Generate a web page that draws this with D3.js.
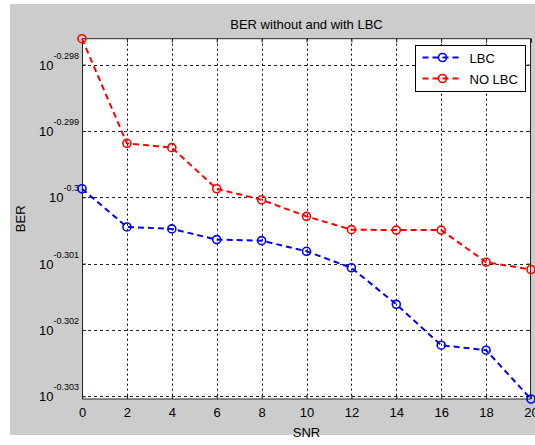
<!DOCTYPE html>
<html>
<head>
<meta charset="utf-8">
<script src="https://d3js.org/d3.v7.min.js"></script>
<style>
  body { margin: 0; background: #fff; }
  text { font-family: "Liberation Sans", Arial, sans-serif; }
</style>
</head>
<body>
<svg width="535" height="445"></svg>
<script>
// SNR values (x axis)
var snr = [0, 2, 4, 6, 8, 10, 12, 14, 16, 18, 20];
// BER
var berLBC   = [0.501335, 0.500671, 0.500637, 0.500451, 0.500433, 0.500248, 0.499962, 0.499328, 0.498620, 0.498534, 0.497690];
var berNoLBC = [0.503953, 0.502127, 0.502051, 0.501335, 0.501143, 0.500855, 0.500624, 0.500616, 0.500616, 0.500059, 0.499932];
// y tick exponents (labels are 10^exp)
var yTickExp = ["-0.298", "-0.299", "-0.3", "-0.301", "-0.302", "-0.303"];
var xTicks = [0, 2, 4, 6, 8, 10, 12, 14, 16, 18, 20];

var series = [
    { name: "LBC", values: berLBC, color: "#0000ff" },
    { name: "NO LBC", values: berNoLBC, color: "#ff0000" }
];

var svg = d3.select("svg");

// figure background
svg.append("rect")
    .attr("x", 10).attr("y", 4)
    .attr("width", 525).attr("height", 431)
    .attr("fill", "#cccccc");

var margin = {left: 82, top: 38.7, right: 531, bottom: 399};
var width = margin.right - margin.left,
    height = margin.bottom - margin.top;

var all = berLBC.concat(berNoLBC);

var x = d3.scaleLinear()
    .domain([0, 20])
    .range([margin.left, margin.right]);

var y = d3.scaleLog()
    .domain(d3.extent(all))
    .range([margin.bottom, margin.top]);

var yTickVals = yTickExp.map(function (e) { return Math.pow(10, +e); });

// plot area
svg.append("rect")
    .attr("x", margin.left).attr("y", margin.top)
    .attr("width", width).attr("height", height)
    .attr("fill", "#fff");

// grid
var grid = svg.append("g");
grid.selectAll(".vg")
    .data(xTicks.slice(1, -1))
    .enter().append("line")
    .attr("x1", function (d) { return Math.round(x(d)) + 0.5; })
    .attr("x2", function (d) { return Math.round(x(d)) + 0.5; })
    .attr("y1", margin.top).attr("y2", margin.bottom)
    .attr("stroke", "#000")
    .attr("stroke-dasharray", "2,3");
grid.selectAll(".hg")
    .data(yTickVals)
    .enter().append("line")
    .attr("x1", margin.left).attr("x2", margin.right)
    .attr("y1", function (d) { return Math.round(y(d)) + 0.5; })
    .attr("y2", function (d) { return Math.round(y(d)) + 0.5; })
    .attr("stroke", "#222")
    .attr("stroke-dasharray", "3,3");

// ticks, inside on all four sides
var xAxisB = d3.axisBottom(x).tickValues(xTicks).tickSizeInner(-4).tickSizeOuter(0).tickPadding(9);
var xAxisT = d3.axisTop(x).tickValues(xTicks).tickSizeInner(-4).tickSizeOuter(0).tickFormat("");
var yAxisL = d3.axisLeft(y).tickValues(yTickVals).tickSizeInner(-4).tickSizeOuter(0).tickFormat("");
var yAxisR = d3.axisRight(y).tickValues(yTickVals).tickSizeInner(-4).tickSizeOuter(0).tickFormat("");

function styleAxis(g) {
    g.select(".domain").remove();
    g.selectAll("line").attr("stroke", "#262626");
    g.selectAll("text").attr("fill", "#000").style("font-size", "13px");
}

svg.append("g").attr("transform", "translate(0," + margin.bottom + ")").call(xAxisB).call(styleAxis);
svg.append("g").attr("transform", "translate(0," + margin.top + ")").call(xAxisT).call(styleAxis);
svg.append("g").attr("transform", "translate(" + margin.left + ",0)").call(yAxisL).call(styleAxis);
svg.append("g").attr("transform", "translate(" + margin.right + ",0)").call(yAxisR).call(styleAxis);

// box
svg.append("rect")
    .attr("x", margin.left + 0.5).attr("y", margin.top)
    .attr("width", width - 1).attr("height", height)
    .attr("fill", "none")
    .attr("stroke", "#262626");

// y tick labels as 10^exp
var yl = svg.append("g");
yTickExp.forEach(function (e, i) {
    var t = yl.append("text")
        .attr("x", 79)
        .attr("y", y(yTickVals[i]) + 5)
        .attr("text-anchor", "end")
        .attr("fill", "#000")
        .style("font-size", "13px");
    t.append("tspan").text("10");
    t.append("tspan").attr("dy", -11).style("font-size", "9px").text(e);
});

// lines and markers
var line = d3.line()
    .x(function (d, i) { return x(snr[i]); })
    .y(function (d) { return y(d); });

series.forEach(function (s) {
    svg.append("path")
        .datum(s.values)
        .attr("d", line)
        .attr("fill", "none")
        .attr("stroke", s.color)
        .attr("stroke-width", 2)
        .attr("stroke-dasharray", "6,4");
    svg.selectAll(null)
        .data(s.values)
        .enter().append("circle")
        .attr("cx", function (d, i) { return x(snr[i]); })
        .attr("cy", function (d) { return y(d); })
        .attr("r", 4)
        .attr("fill", "none")
        .attr("stroke", s.color)
        .attr("stroke-width", 1.6);
});

// title and axis labels
svg.append("text")
    .attr("x", (margin.left + margin.right) / 2)
    .attr("y", 29)
    .attr("text-anchor", "middle")
    .style("font-size", "13px")
    .attr("fill", "#000")
    .text("BER without and with LBC");

svg.append("text")
    .attr("x", (margin.left + margin.right) / 2)
    .attr("y", 437)
    .attr("text-anchor", "middle")
    .style("font-size", "13px")
    .attr("fill", "#000")
    .text("SNR");

svg.append("text")
    .attr("transform", "translate(25," + ((margin.top + margin.bottom) / 2) + ") rotate(-90)")
    .attr("text-anchor", "middle")
    .style("font-size", "13px")
    .attr("fill", "#000")
    .text("BER");

// legend
var lg = svg.append("g").attr("transform", "translate(415.5,45.5)");
lg.append("rect")
    .attr("width", 110).attr("height", 46)
    .attr("fill", "#fff")
    .attr("stroke", "#000");
series.forEach(function (s, i) {
    var ly = 12 + i * 21;
    lg.append("line")
        .attr("x1", 7).attr("x2", 47)
        .attr("y1", ly).attr("y2", ly)
        .attr("stroke", s.color)
        .attr("stroke-width", 2)
        .attr("stroke-dasharray", "6,4");
    lg.append("circle")
        .attr("cx", 27).attr("cy", ly).attr("r", 4)
        .attr("fill", "none")
        .attr("stroke", s.color)
        .attr("stroke-width", 1.6);
    lg.append("text")
        .attr("x", 54).attr("y", ly + 5)
        .style("font-size", "13px")
        .attr("fill", "#000")
        .text(s.name);
});
</script>
</body>
</html>
